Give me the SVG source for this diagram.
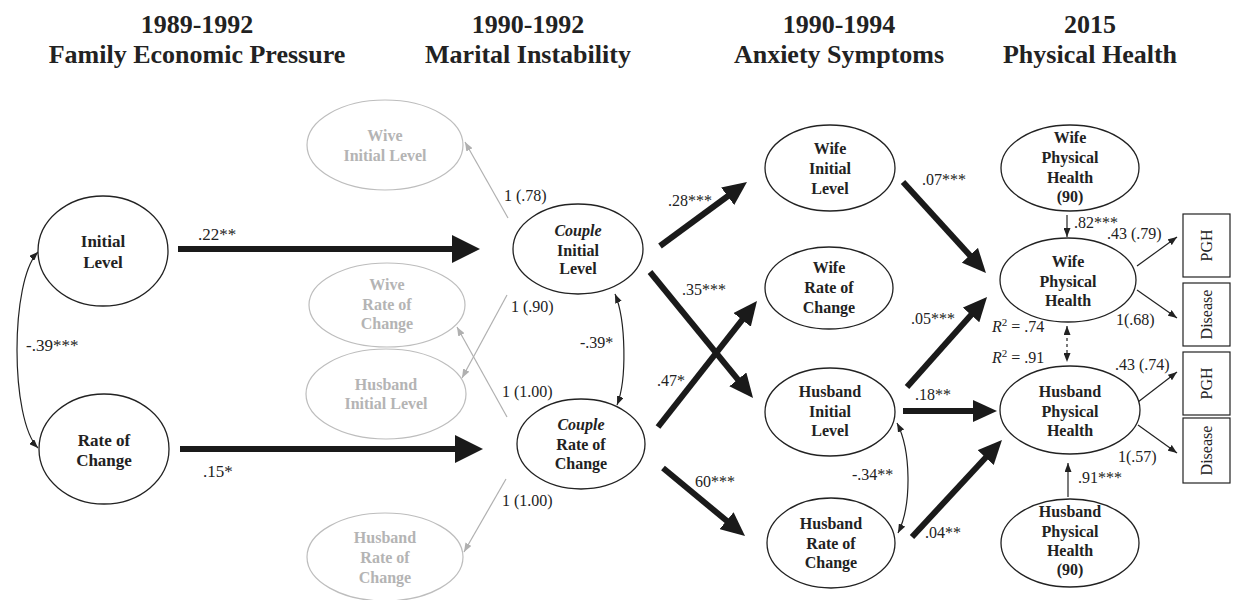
<svg xmlns="http://www.w3.org/2000/svg" width="1233" height="600" viewBox="0 0 1233 600">
<style>
text{font-family:"Liberation Serif","Times New Roman",serif;fill:#222}
.t{font-size:26px;font-weight:bold;text-anchor:middle}
.n{font-size:16px;font-weight:bold;text-anchor:middle}
.nl{font-size:17px;font-weight:bold;text-anchor:middle}
.g{font-size:16px;font-weight:bold;text-anchor:middle;fill:#b4b4b4}
.l{font-size:16px}
.L{font-size:17px}
.e{fill:#fff;stroke:#222;stroke-width:1.3}
.ge{fill:#fff;stroke:#bdbdbd;stroke-width:1.2}
.box{fill:#fff;stroke:#222;stroke-width:1.2}
.thick{stroke:#1a1a1a;stroke-width:6;fill:none}
.thin{stroke:#222;stroke-width:1.2;fill:none}
.gray{stroke:#b0b0b0;stroke-width:1.2;fill:none}
</style>
<defs>
<marker id="big" markerUnits="userSpaceOnUse" viewBox="0 0 28 28" markerWidth="28" markerHeight="28" refX="8" refY="14" orient="auto"><path d="M0,0 L28,14 L0,28 z" fill="#1a1a1a"/></marker>
<marker id="med" markerUnits="userSpaceOnUse" viewBox="0 0 24 22" markerWidth="24" markerHeight="22" refX="8" refY="11" orient="auto"><path d="M0,0 L24,11 L0,22 z" fill="#1a1a1a"/></marker>
<marker id="sm" markerUnits="userSpaceOnUse" viewBox="0 0 9 7" markerWidth="9" markerHeight="7" refX="9" refY="3.5" orient="auto-start-reverse"><path d="M0,0 L9,3.5 L0,7 z" fill="#222"/></marker>
<marker id="smg" markerUnits="userSpaceOnUse" viewBox="0 0 9 7" markerWidth="9" markerHeight="7" refX="9" refY="3.5" orient="auto"><path d="M0,0 L9,3.5 L0,7 z" fill="#b0b0b0"/></marker>
</defs>
<rect width="1233" height="600" fill="#fff"/>

<g id="titles">
<text class="t" x="197" y="33">1989-1992</text>
<text class="t" x="197" y="63">Family Economic Pressure</text>
<text class="t" x="528" y="33">1990-1992</text>
<text class="t" x="528" y="63">Marital Instability</text>
<text class="t" x="839" y="33">1990-1994</text>
<text class="t" x="839" y="63">Anxiety Symptoms</text>
<text class="t" x="1090" y="33">2015</text>
<text class="t" x="1090" y="63">Physical Health</text>
</g>

<g id="connectors">
<line class="thick" x1="178" y1="249" x2="460" y2="249" marker-end="url(#big)"/>
<line class="thick" x1="180" y1="449" x2="463" y2="449" marker-end="url(#big)"/>
<path class="thin" d="M38,252 C10,280 10,420 38,448" marker-start="url(#sm)" marker-end="url(#sm)"/>
<line class="gray" x1="508" y1="218" x2="465" y2="142" marker-end="url(#smg)"/>
<line class="gray" x1="507" y1="295" x2="462" y2="378" marker-end="url(#smg)"/>
<line class="gray" x1="507" y1="417" x2="457" y2="327" marker-end="url(#smg)"/>
<line class="gray" x1="506" y1="479" x2="464" y2="552" marker-end="url(#smg)"/>
<path class="thin" d="M615,294 C626,320 627,380 617,405" marker-start="url(#sm)" marker-end="url(#sm)"/>
<line class="thick" x1="660" y1="246" x2="734.1" y2="191.5" marker-end="url(#med)"/>
<line class="thick" x1="650" y1="272" x2="742.9" y2="385.6" marker-end="url(#med)"/>
<line class="thick" x1="658" y1="427" x2="747.1" y2="313.6" marker-end="url(#med)"/>
<line class="thick" x1="663" y1="468" x2="732.7" y2="525.8" marker-end="url(#med)"/>
<path class="thin" d="M897,423 C911,450 912,505 898,533" marker-start="url(#sm)" marker-end="url(#sm)"/>
<line class="thick" x1="903" y1="182" x2="975.2" y2="261.2" marker-end="url(#med)"/>
<line class="thick" x1="907" y1="387" x2="976.4" y2="309" marker-end="url(#med)"/>
<line class="thick" x1="903" y1="411" x2="981" y2="411" marker-end="url(#med)"/>
<line class="thick" x1="912" y1="537" x2="991.1" y2="451.7" marker-end="url(#med)"/>
<line class="thin" x1="1067" y1="215" x2="1067" y2="237" marker-end="url(#sm)"/>
<line class="thin" x1="1067" y1="326" x2="1067" y2="362" stroke-dasharray="3,3" marker-start="url(#sm)" marker-end="url(#sm)"/>
<line class="thin" x1="1068" y1="497" x2="1068" y2="463" marker-end="url(#sm)"/>
<line class="thin" x1="1137" y1="266" x2="1177" y2="237" marker-end="url(#sm)"/>
<line class="thin" x1="1137" y1="290" x2="1177" y2="318" marker-end="url(#sm)"/>
<line class="thin" x1="1138" y1="402" x2="1177" y2="372" marker-end="url(#sm)"/>
<line class="thin" x1="1138" y1="425" x2="1177" y2="453" marker-end="url(#sm)"/>
</g>

<g id="labels">
<text class="L" x="198" y="240">.22**</text>
<text class="L" x="203" y="477">.15*</text>
<text class="L" x="26" y="351">-.39***</text>
<text class="l" x="504" y="201">1 (.78)</text>
<text class="l" x="511" y="312">1 (.90)</text>
<text class="l" x="502" y="397">1 (1.00)</text>
<text class="l" x="502" y="506">1 (1.00)</text>
<text class="l" x="580" y="348">-.39*</text>
<text class="l" x="668" y="206">.28***</text>
<text class="l" x="682" y="295">.35***</text>
<text class="l" x="657" y="386">.47*</text>
<text class="l" x="695" y="487">60***</text>
<text class="l" x="922" y="185">.07***</text>
<text class="l" x="911" y="324">.05***</text>
<text class="l" x="915" y="400">.18**</text>
<text class="l" x="852" y="480">-.34**</text>
<text class="l" x="925" y="538">.04**</text>
<text class="l" x="1074" y="228">.82***</text>
<text class="l" x="1107" y="239">.43 (.79)</text>
<text class="l" x="1116" y="325">1(.68)</text>
<text class="l" x="992" y="332"><tspan font-style="italic">R</tspan><tspan font-size="11" dy="-6">2</tspan><tspan dy="6"> = .74</tspan></text>
<text class="l" x="992" y="363"><tspan font-style="italic">R</tspan><tspan font-size="11" dy="-6">2</tspan><tspan dy="6"> = .91</tspan></text>
<text class="l" x="1115" y="370">.43 (.74)</text>
<text class="l" x="1118" y="462">1(.57)</text>
<text class="l" x="1078" y="483">.91***</text>
</g>

<g id="fep-initial"><ellipse class="e" cx="103" cy="251" rx="65" ry="55"/><text class="nl" x="103" y="247">Initial</text><text class="nl" x="103" y="268">Level</text></g>
<g id="fep-rate"><ellipse class="e" cx="104" cy="449" rx="65" ry="55"/><text class="nl" x="104" y="446">Rate of</text><text class="nl" x="104" y="466">Change</text></g>

<g id="wive-initial"><ellipse class="ge" cx="385" cy="145" rx="78" ry="45"/><text class="g" x="385" y="141">Wive</text><text class="g" x="385" y="161">Initial Level</text></g>
<g id="wive-rate"><ellipse class="ge" cx="387" cy="305" rx="78" ry="42"/><text class="g" x="387" y="290">Wive</text><text class="g" x="387" y="310">Rate of</text><text class="g" x="387" y="329">Change</text></g>
<g id="husband-initial-mi"><ellipse class="ge" cx="386" cy="394" rx="80" ry="45"/><text class="g" x="386" y="390">Husband</text><text class="g" x="386" y="409">Initial Level</text></g>
<g id="husband-rate-mi"><ellipse class="ge" cx="385" cy="557" rx="78" ry="44"/><text class="g" x="385" y="543">Husband</text><text class="g" x="385" y="563">Rate of</text><text class="g" x="385" y="583">Change</text></g>

<g id="couple-initial"><ellipse class="e" cx="578" cy="249" rx="65" ry="45"/><text class="n" x="578" y="236" font-style="italic">Couple</text><text class="n" x="578" y="256">Initial</text><text class="n" x="578" y="274">Level</text></g>
<g id="couple-rate"><ellipse class="e" cx="581" cy="444" rx="64" ry="45"/><text class="n" x="581" y="430" font-style="italic">Couple</text><text class="n" x="581" y="450">Rate of</text><text class="n" x="581" y="469">Change</text></g>

<g id="anx-wife-initial"><ellipse class="e" cx="830" cy="168" rx="65" ry="43"/><text class="n" x="830" y="154">Wife</text><text class="n" x="830" y="174">Initial</text><text class="n" x="830" y="194">Level</text></g>
<g id="anx-wife-rate"><ellipse class="e" cx="829" cy="288" rx="64" ry="41"/><text class="n" x="829" y="273">Wife</text><text class="n" x="829" y="293">Rate of</text><text class="n" x="829" y="313">Change</text></g>
<g id="anx-husband-initial"><ellipse class="e" cx="830" cy="412" rx="65" ry="44"/><text class="n" x="830" y="397">Husband</text><text class="n" x="830" y="417">Initial</text><text class="n" x="830" y="436">Level</text></g>
<g id="anx-husband-rate"><ellipse class="e" cx="831" cy="543" rx="64" ry="45"/><text class="n" x="831" y="529">Husband</text><text class="n" x="831" y="549">Rate of</text><text class="n" x="831" y="568">Change</text></g>

<g id="wife-ph-90"><ellipse class="e" cx="1070" cy="168" rx="69" ry="43"/><text class="n" x="1070" y="143">Wife</text><text class="n" x="1070" y="163">Physical</text><text class="n" x="1070" y="183">Health</text><text class="n" x="1070" y="202">(90)</text></g>
<g id="wife-ph"><ellipse class="e" cx="1068" cy="280" rx="68" ry="42"/><text class="n" x="1068" y="267">Wife</text><text class="n" x="1068" y="287">Physical</text><text class="n" x="1068" y="306">Health</text></g>
<g id="husband-ph"><ellipse class="e" cx="1070" cy="410" rx="70" ry="44"/><text class="n" x="1070" y="397">Husband</text><text class="n" x="1070" y="417">Physical</text><text class="n" x="1070" y="436">Health</text></g>
<g id="husband-ph-90"><ellipse class="e" cx="1070" cy="543" rx="69" ry="44"/><text class="n" x="1070" y="517">Husband</text><text class="n" x="1070" y="537">Physical</text><text class="n" x="1070" y="556">Health</text><text class="n" x="1070" y="575">(90)</text></g>

<g id="box-pgh-wife"><rect class="box" x="1183" y="214" width="47" height="63"/><text class="l" x="1206.5" y="251" text-anchor="middle" transform="rotate(-90 1206.5 245.5)">PGH</text></g>
<g id="box-disease-wife"><rect class="box" x="1183" y="283" width="47" height="63"/><text class="l" x="1206.5" y="320" text-anchor="middle" transform="rotate(-90 1206.5 314.5)">Disease</text></g>
<g id="box-pgh-husband"><rect class="box" x="1183" y="352" width="47" height="63"/><text class="l" x="1206.5" y="389" text-anchor="middle" transform="rotate(-90 1206.5 383.5)">PGH</text></g>
<g id="box-disease-husband"><rect class="box" x="1183" y="418" width="47" height="65"/><text class="l" x="1206.5" y="456" text-anchor="middle" transform="rotate(-90 1206.5 450.5)">Disease</text></g>
</svg>
